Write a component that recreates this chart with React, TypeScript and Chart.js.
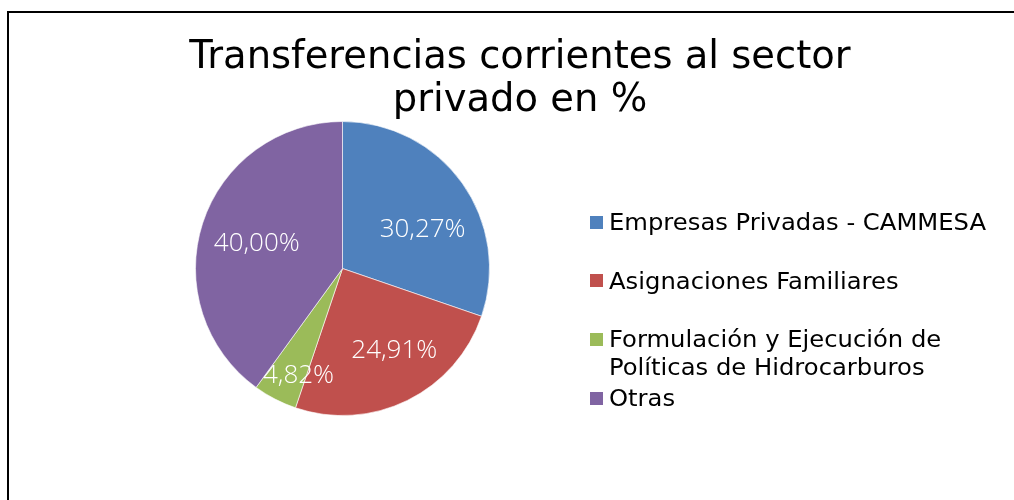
import { useEffect, useRef } from "react";
import { Chart, registerables, layouts } from "chart.js";

Chart.register(...registerables);

const titleLines = ["Transferencias corrientes al sector", "privado en %"];
const categories = [
  "Empresas Privadas - CAMMESA",
  "Asignaciones Familiares",
  "Formulación y Ejecución de Políticas de Hidrocarburos",
  "Otras",
];
const shares = [30.27, 24.91, 4.82, 40.0];
const sliceColors = ["#4F81BD", "#C0504D", "#9BBB59", "#8064A2"];

// label placement inside slices (fraction of radius, angular nudge in degrees)
const labelRadius = [0.606, 0.661, 0.787, 0.608];
const labelAngleShift = [9.6, -6, -5, -1.5];

const TEXT_FONT = "'DejaVu Sans', 'Open Sans', sans-serif";
const LABEL_FONT = "'Open Sans', 'Noto Sans', sans-serif";

// legend styling
const LEGEND_BOX_WIDTH = 355;
const LEGEND_FIRST_OFFSET = 103;
const LEGEND_PITCH = 58.7;
const LEGEND_LINE_HEIGHT = 28;
const LEGEND_SWATCH = 13;
const LEGEND_SWATCH_X = 4;
const LEGEND_TEXT_X = 23;
const LEGEND_STRETCH = 1.055;
const LEGEND_WRAP = 28;

const fmt = (v: number) => v.toFixed(2).replace(".", ",") + "%";

function wrap(text: string, maxChars: number): string[] {
  const words = text.split(" ");
  const lines: string[] = [];
  let cur = "";
  for (const w of words) {
    const next = cur ? cur + " " + w : w;
    if (next.length > maxChars && cur) {
      lines.push(cur);
      cur = w;
    } else cur = next;
  }
  if (cur) lines.push(cur);
  return lines;
}

const sliceLabelPlugin = {
  id: "sliceLabels",
  afterDatasetsDraw(chart: any) {
    const meta = chart.getDatasetMeta(0);
    const values = chart.data.datasets[0].data as number[];
    const ctx = chart.ctx as CanvasRenderingContext2D;
    ctx.save();
    ctx.font = `300 26px ${LABEL_FONT}`;
    ctx.fillStyle = "#FFFFFF";
    ctx.textAlign = "center";
    ctx.textBaseline = "middle";
    meta.data.forEach((arc: any, i: number) => {
      const p = arc.getProps(["x", "y", "startAngle", "endAngle", "outerRadius"], true);
      const mid = (p.startAngle + p.endAngle) / 2 + (labelAngleShift[i] * Math.PI) / 180;
      const r = p.outerRadius * labelRadius[i];
      ctx.fillText(fmt(values[i]), p.x + Math.cos(mid) * r, p.y + Math.sin(mid) * r);
    });
    ctx.restore();
  },
};

const framePlugin = {
  id: "frame",
  beforeDraw(chart: any) {
    const ctx = chart.ctx as CanvasRenderingContext2D;
    ctx.save();
    ctx.fillStyle = "#000000";
    ctx.fillRect(7, 11, 2, chart.height - 11);
    ctx.fillRect(7, 11, chart.width - 7, 2);
    ctx.restore();
  },
};

function drawSideLegend(chart: any, box: any) {
  const ctx = chart.ctx as CanvasRenderingContext2D;
  const labels = chart.data.labels as string[];
  const colors = chart.data.datasets[0].backgroundColor as string[];
  ctx.save();
  ctx.font = `23px ${TEXT_FONT}`;
  ctx.textBaseline = "middle";
  ctx.textAlign = "left";
  labels.forEach((label, i) => {
    const yc = box.top + LEGEND_FIRST_OFFSET + i * LEGEND_PITCH;
    ctx.fillStyle = colors[i];
    ctx.fillRect(box.left + LEGEND_SWATCH_X, Math.round(yc - 2 - LEGEND_SWATCH / 2), LEGEND_SWATCH, LEGEND_SWATCH);
    ctx.fillStyle = "#000000";
    wrap(label, LEGEND_WRAP).forEach((line, k) => {
      ctx.save();
      ctx.translate(box.left + LEGEND_TEXT_X, yc + k * LEGEND_LINE_HEIGHT);
      ctx.scale(LEGEND_STRETCH, 1);
      ctx.fillText(line, 0, 0);
      ctx.restore();
    });
  });
  ctx.restore();
}

const sideLegendPlugin = {
  id: "sideLegend",
  beforeInit(chart: any) {
    const box: any = {
      position: "right",
      weight: 1000,
      fullSize: false,
      options: {},
      left: 0,
      top: 0,
      right: 0,
      bottom: 0,
      width: 0,
      height: 0,
      isHorizontal: () => false,
      update(_maxWidth: number, maxHeight: number) {
        box.width = LEGEND_BOX_WIDTH;
        box.height = maxHeight;
      },
      draw() {
        drawSideLegend(chart, box);
      },
    };
    layouts.addBox(chart, box);
  },
};

export default function App() {
  const ref = useRef<HTMLCanvasElement | null>(null);

  useEffect(() => {
    if (!ref.current) return;
    const chart = new Chart(ref.current, {
      type: "pie",
      data: {
        labels: categories,
        datasets: [
          {
            data: shares,
            backgroundColor: sliceColors,
            borderColor: "rgba(255,255,255,0.6)",
            borderWidth: 1,
          },
        ],
      },
      options: {
        responsive: false,
        animation: false,
        layout: { padding: { left: 99, right: 73, top: 0, bottom: 84 } },
        plugins: {
          tooltip: { enabled: false },
          legend: { display: false },
          title: {
            display: true,
            text: titleLines,
            color: "#000000",
            font: { family: TEXT_FONT, size: 38.5, weight: "normal", lineHeight: 43 / 38.5 },
            padding: { top: 36, bottom: -1 },
          },
        },
      } as any,
      plugins: [framePlugin, sideLegendPlugin, sliceLabelPlugin],
    });
    return () => chart.destroy();
  }, []);

  return (
    <div style={{ position: "fixed", left: 0, top: 0, width: 1014, height: 500, background: "#fff" }}>
      <canvas ref={ref} width={1014} height={500} style={{ position: "absolute", left: 0, top: 0 }} />
    </div>
  );
}
